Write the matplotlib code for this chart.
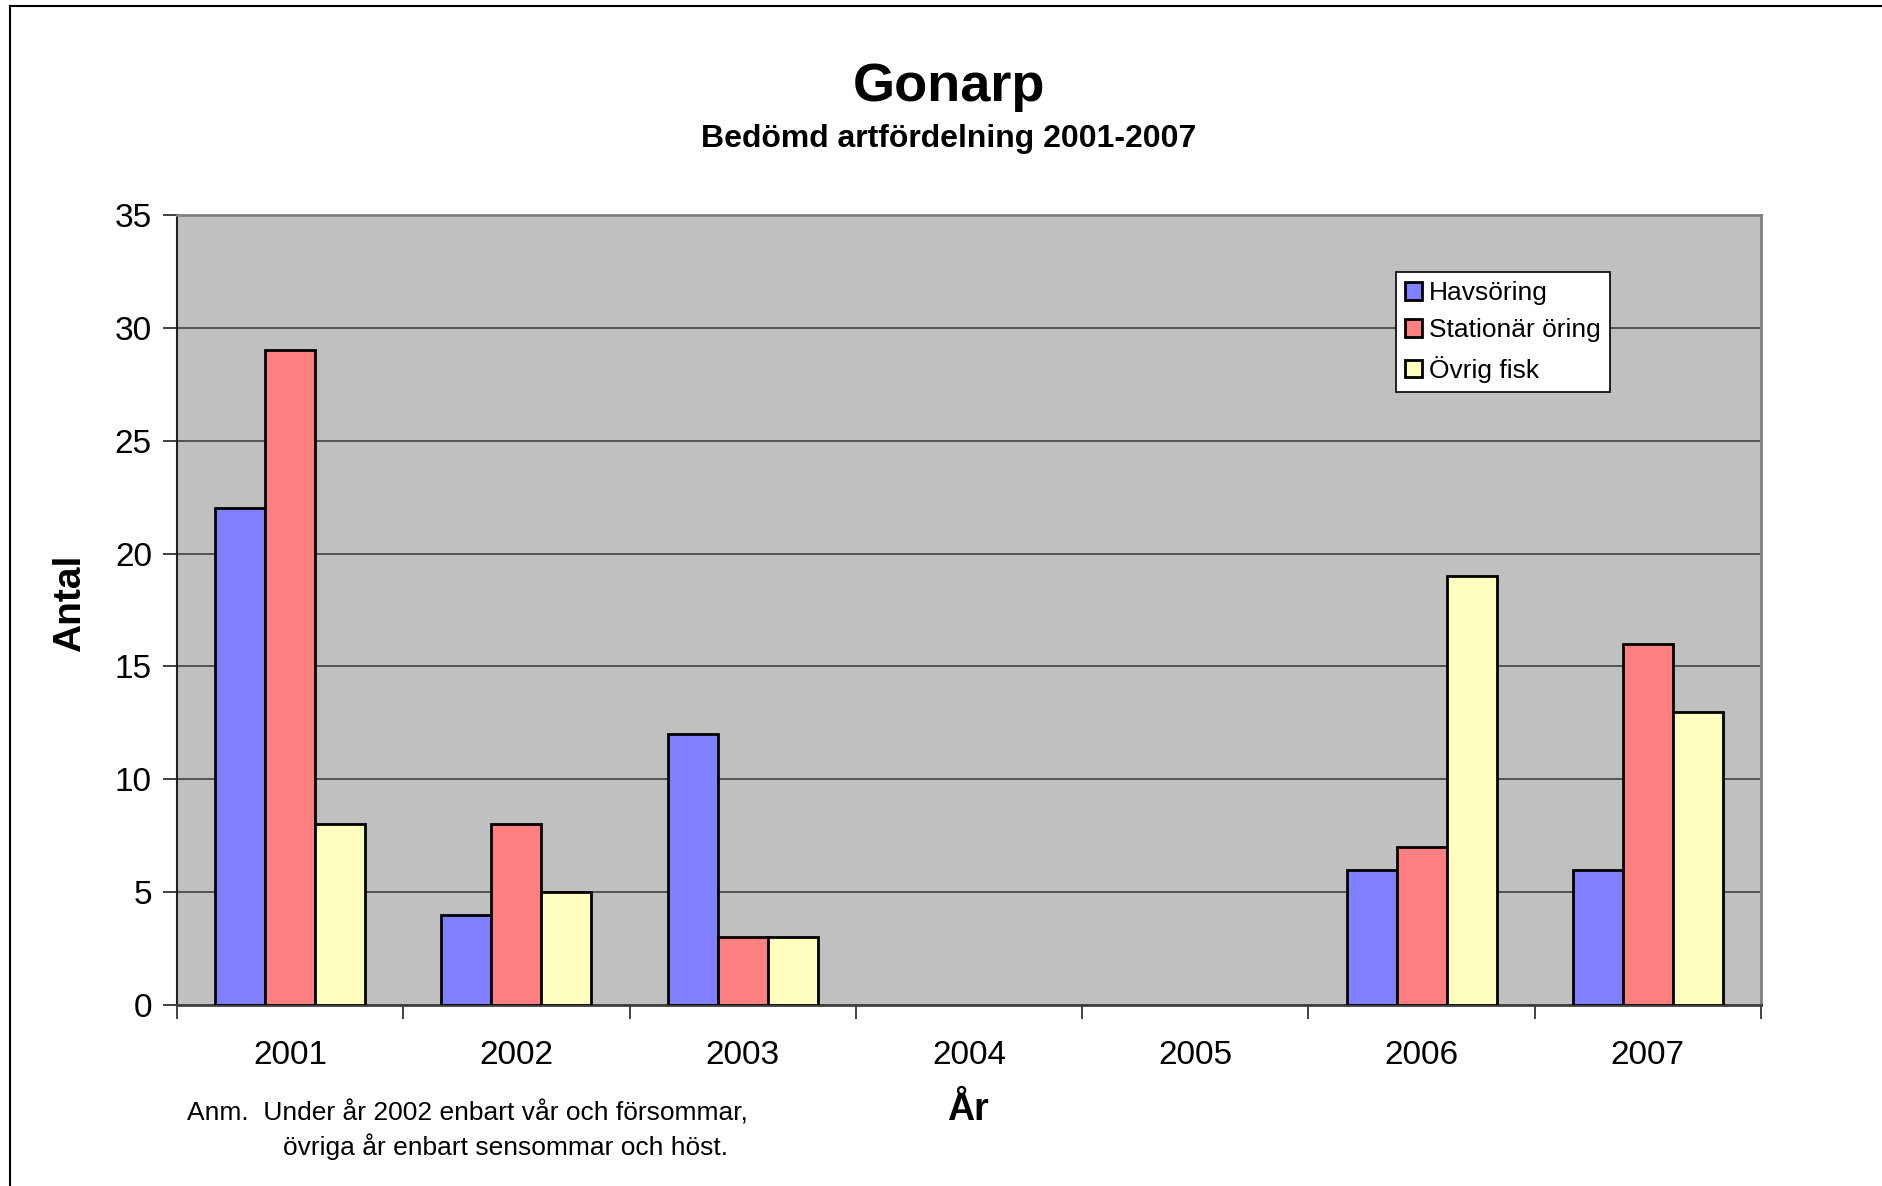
import numpy as np
import matplotlib
matplotlib.use("Agg")
import matplotlib.pyplot as plt
from matplotlib.lines import Line2D

years = ["2001", "2002", "2003", "2004", "2005", "2006", "2007"]
havsoring = [22, 4, 12, np.nan, np.nan, 6, 6]
stationar = [29, 8, 3, np.nan, np.nan, 7, 16]
ovrig = [8, 5, 3, np.nan, np.nan, 19, 13]
series_names = ["Havsöring", "Stationär öring", "Övrig fisk"]
colors = ["#8080FF", "#FF8080", "#FFFFC0"]
yticks = [0, 5, 10, 15, 20, 25, 30, 35]

plt.rcParams['font.family'] = ['Liberation Sans', 'DejaVu Sans']

W, H = 1883, 1186
fig = plt.figure(figsize=(W / 100, H / 100), dpi=100)
ax = fig.add_axes([177 / W, 1 - 1005 / H, (1761 - 177) / W, (1005 - 215) / H])
ax.set_facecolor("#C0C0C0")

x = np.arange(len(years))
bw = 0.221
for i, (vals, name, c) in enumerate(zip([havsoring, stationar, ovrig], series_names, colors)):
    v = np.array(vals, dtype=float)
    mask = ~np.isnan(v)
    ax.bar(x[mask] + (i - 1) * bw, v[mask], width=bw, color=c, edgecolor="black",
           linewidth=2, label=name, zorder=3)

ax.set_xlim(-0.5, len(years) - 0.5)
ax.set_ylim(0, 35)
ax.set_yticks(yticks)
ax.set_yticklabels([str(t) for t in yticks], fontsize=24)
ax.yaxis.grid(True, color="#404040", linewidth=1.2, zorder=1)
ax.set_axisbelow(True)

ax.set_xticks(x)
ax.set_xticklabels(years, fontsize=24)
ax.set_xticks(np.arange(-0.5, len(years)), minor=True)
ax.tick_params(axis="x", which="major", length=0, pad=25)
ax.tick_params(axis="x", which="minor", length=10, width=1.2, direction="out", color="#202020")
ax.tick_params(axis="y", length=10, width=1.2, direction="out", pad=8, color="#202020")

for side in ["top", "right"]:
    ax.spines[side].set_color("#808080")
    ax.spines[side].set_linewidth(2)
ax.spines["left"].set_color("#202020")
ax.spines["left"].set_linewidth(1.5)
ax.spines["bottom"].set_color("#404040")
ax.spines["bottom"].set_linewidth(2)

leg = ax.legend(loc="upper left", bbox_to_anchor=((1396 - 177) / (1761 - 177), 1 - (272 - 215) / (1005 - 215)),
                fontsize=19, frameon=True, fancybox=False, edgecolor="black", framealpha=1,
                handlelength=0.65, handleheight=0.65, handletextpad=0.25, labelspacing=0.5,
                borderpad=0.35, borderaxespad=0)
leg.get_frame().set_linewidth(1.2)
leg.get_frame().set_facecolor("white")
for p in leg.get_patches():
    p.set_linewidth(2)

fig.text(949 / W, 1 - 87 / H, "Gonarp", ha="center", va="center", fontsize=39, fontweight="bold")
fig.text(949 / W, 1 - 139 / H, "Bedömd artfördelning 2001-2007", ha="center", va="center",
         fontsize=23, fontweight="bold")
fig.text(70 / W, 1 - 603 / H, "Antal", ha="center", va="center", rotation=90, fontsize=28,
         fontweight="bold")
fig.text(968 / W, 1 - 1110 / H, "År", ha="center", va="center", fontsize=27, fontweight="bold")
fig.text(187 / W, 1 - 1113 / H, "Anm.  Under år 2002 enbart vår och försommar,", ha="left",
         va="center", fontsize=19)
fig.text(283 / W, 1 - 1147 / H, "övriga år enbart sensommar och höst.", ha="left",
         va="center", fontsize=19)

fig.add_artist(Line2D([10 / W, 10 / W], [0, 1 - 6 / H], transform=fig.transFigure, color="black", linewidth=1.5))
fig.add_artist(Line2D([10 / W, 1], [1 - 6 / H, 1 - 6 / H], transform=fig.transFigure, color="black", linewidth=1.5))

fig.savefig("out.png", dpi=100)
